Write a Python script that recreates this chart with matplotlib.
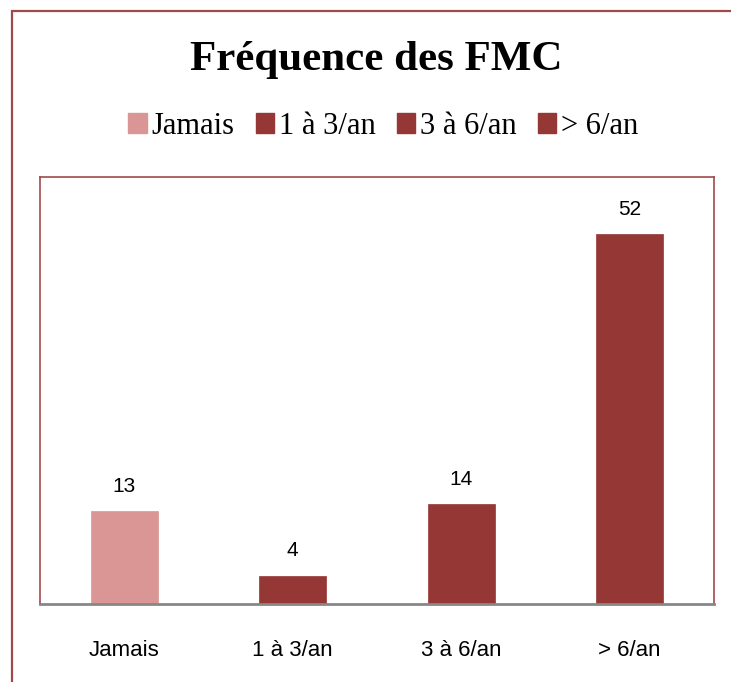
import matplotlib.pyplot as plt
from matplotlib.patches import Patch, Rectangle
from matplotlib import font_manager

categories = ["Jamais", "1 à 3/an", "3 à 6/an", "> 6/an"]
values = [13, 4, 14, 52]
colors = ["#D99694", "#953735", "#953735", "#953735"]

names = {f.name for f in font_manager.fontManager.ttflist}
narrow = "Liberation Sans Narrow" if "Liberation Sans Narrow" in names else "Liberation Sans"
serif = "Liberation Serif"

fig = plt.figure(figsize=(7.31, 6.82), dpi=100)

# outer chart frame (runs off the right and bottom edges)
fig.patches.append(Rectangle((11.5 / 731, -0.1), 1.2, 1.1 - 10.5 / 682,
                             transform=fig.transFigure, fill=False,
                             edgecolor="#A0494B", linewidth=1.6))

ax = fig.add_axes([40 / 731, 78 / 682, 674 / 731, 427 / 682])
x = range(len(categories))
bars = ax.bar(x, values, width=0.4, color=colors, edgecolor=colors, linewidth=0.5)
ax.set_xlim(-0.5, 3.5)
ax.set_ylim(0, 60)

for rect, v in zip(bars, values):
    ax.annotate(str(v), (rect.get_x() + rect.get_width() / 2, v),
                xytext=(0, 11), textcoords="offset points",
                ha="center", va="bottom", fontsize=15, family=narrow)

ax.set_xticks(list(x))
ax.set_xticklabels(categories, fontsize=16, family=narrow)
ax.tick_params(axis="x", length=0, pad=26)
ax.set_yticks([])
for side in ["top", "left", "right"]:
    ax.spines[side].set_color("#A0494B")
    ax.spines[side].set_linewidth(1.2)
ax.spines["bottom"].set_color("#878787")
ax.spines["bottom"].set_linewidth(2)

fig.text(0.515, 0.912, "Fréquence des FMC", ha="center", va="center",
         fontsize=31, fontweight="bold", family=serif)

handles = [Patch(facecolor=c, edgecolor=c) for c in colors]
fig.legend(handles, categories, loc="center", bbox_to_anchor=(0.524, 0.815),
           ncol=4, frameon=False, handlelength=0.6, handleheight=0.6,
           handletextpad=0.15, columnspacing=0.7, borderpad=0.2,
           prop={"family": serif, "size": 22})

fig.savefig("out.png", dpi=100)
